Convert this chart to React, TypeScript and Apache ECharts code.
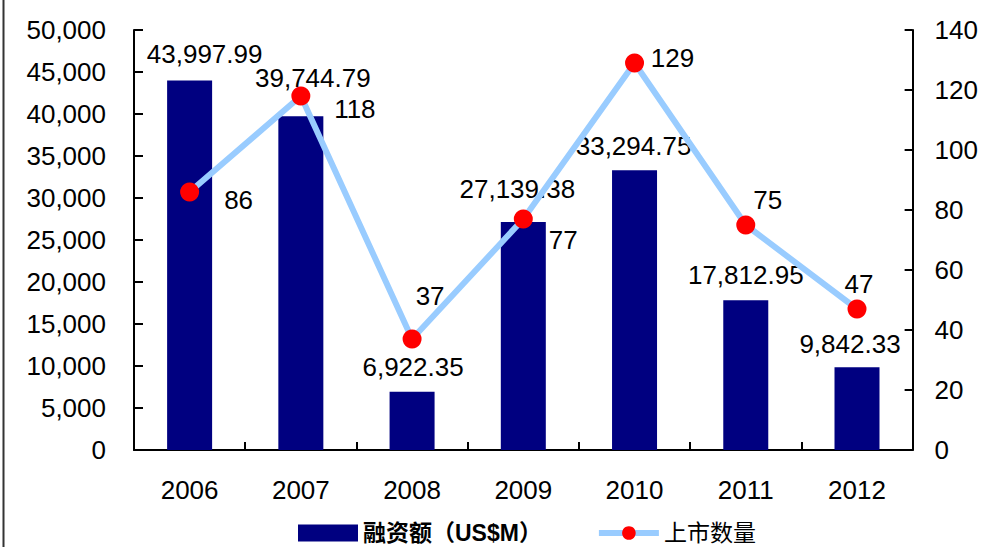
import React, { useEffect, useRef } from "react";
import * as echarts from "echarts";

const years = ["2006", "2007", "2008", "2009", "2010", "2011", "2012"];
const financing = [43997.99, 39744.79, 6922.35, 27139.38, 33294.75, 17812.95, 9842.33];
const listings = [86, 118, 37, 77, 129, 75, 47];

// label offsets (styling only) relative to bar top-center / point center
const barLabelOffsets = [[15, -26], [12, -38], [1, -25], [-6, -33], [-1, -24], [0, -25], [-7, -23]];
const lineLabelOffsets = [[49, 8], [54, 13], [18, -43], [40, 21], [38, -5], [22, -25], [2, -25]];

const FONT = "'Liberation Sans', Arial, 'Noto Sans CJK SC', sans-serif";
const FS = 26;
const BAR_NAME = "融资额（US$M）";
const LINE_NAME = "上市数量";

const fmt = (v: number) =>
  v.toLocaleString("en-US", { minimumFractionDigits: 2, maximumFractionDigits: 2 });

export default function App() {
  const ref = useRef<HTMLDivElement>(null);
  useEffect(() => {
    if (!ref.current) return;
    const chart = echarts.init(ref.current, undefined, { renderer: "svg" });
    const barData = financing.map((v, i) => ({
      value: v,
      label: {
        show: true,
        position: ["50%", 0],
        align: "center",
        verticalAlign: "middle",
        lineHeight: 22,
        offset: barLabelOffsets[i],
        formatter: () => fmt(v),
      },
    }));
    const lineData = listings.map((v, i) => ({
      value: v,
      label: {
        show: true,
        position: ["50%", "50%"],
        align: "center",
        verticalAlign: "middle",
        lineHeight: 22,
        offset: lineLabelOffsets[i],
      },
    }));
    const axisLabel = { color: "#000", fontSize: FS, fontFamily: FONT };
    chart.setOption({
      animation: false,
      textStyle: { fontFamily: FONT },
      grid: { left: 134, right: 66, top: 30, bottom: 97, containLabel: false },
      legend: {
        left: 298,
        top: 521,
        padding: 0,
        itemWidth: 60,
        itemHeight: 17,
        itemGap: 54,
        data: [
          { name: BAR_NAME, icon: "rect" },
          { name: LINE_NAME, lineStyle: { width: 6, color: "#99ccff" } },
        ],
        formatter: (name: string) => (name === BAR_NAME ? `{b|${name}}` : `{n|${name}}`),
        textStyle: {
          color: "#000",
          fontSize: 23,
          lineHeight: 24,
          fontFamily: FONT,
          rich: {
            b: { fontSize: 23, lineHeight: 24, fontWeight: "bold", fontFamily: FONT, color: "#000" },
            n: { fontSize: 23, lineHeight: 24, fontFamily: FONT, color: "#000" },
          },
        },
      },
      xAxis: {
        type: "category",
        data: years,
        axisLine: { lineStyle: { color: "#000", width: 2 } },
        axisTick: { show: true, inside: true, length: 8, lineStyle: { color: "#000", width: 2 } },
        axisLabel: { ...axisLabel, margin: 27 },
      },
      yAxis: [
        {
          type: "value",
          min: 0,
          max: 50000,
          interval: 5000,
          splitLine: { show: false },
          axisLine: { show: true, lineStyle: { color: "#000", width: 2 } },
          axisTick: { show: true, inside: true, length: 9, lineStyle: { color: "#000", width: 2 } },
          axisLabel: {
            ...axisLabel,
            margin: 28,
            formatter: (v: number) => v.toLocaleString("en-US"),
          },
        },
        {
          type: "value",
          min: 0,
          max: 140,
          interval: 20,
          position: "right",
          splitLine: { show: false },
          axisLine: { show: true, lineStyle: { color: "#000", width: 2 } },
          axisTick: { show: true, inside: true, length: 8, lineStyle: { color: "#000", width: 2 } },
          axisLabel: { ...axisLabel, margin: 22 },
        },
      ],
      series: [
        {
          name: BAR_NAME,
          type: "bar",
          data: barData,
          barWidth: 45,
          itemStyle: { color: "#000080" },
          label: { color: "#000", fontSize: FS, fontFamily: FONT },
          z: 2,
        },
        {
          name: LINE_NAME,
          type: "line",
          yAxisIndex: 1,
          data: lineData,
          symbol: "circle",
          symbolSize: 19,
          lineStyle: { color: "#99ccff", width: 6 },
          itemStyle: { color: "#ff0000" },
          label: { color: "#000", fontSize: FS, fontFamily: FONT },
          z: 3,
        },
      ],
      graphic: [
        {
          type: "line",
          shape: { x1: 3.5, y1: 0, x2: 3.5, y2: 547 },
          style: { stroke: "#333", lineWidth: 2 },
        },
      ],
    });
    return () => chart.dispose();
  }, []);
  return (
    <div
      ref={ref}
      style={{ position: "absolute", left: 0, top: 0, width: 981, height: 547, background: "#fff" }}
    />
  );
}
